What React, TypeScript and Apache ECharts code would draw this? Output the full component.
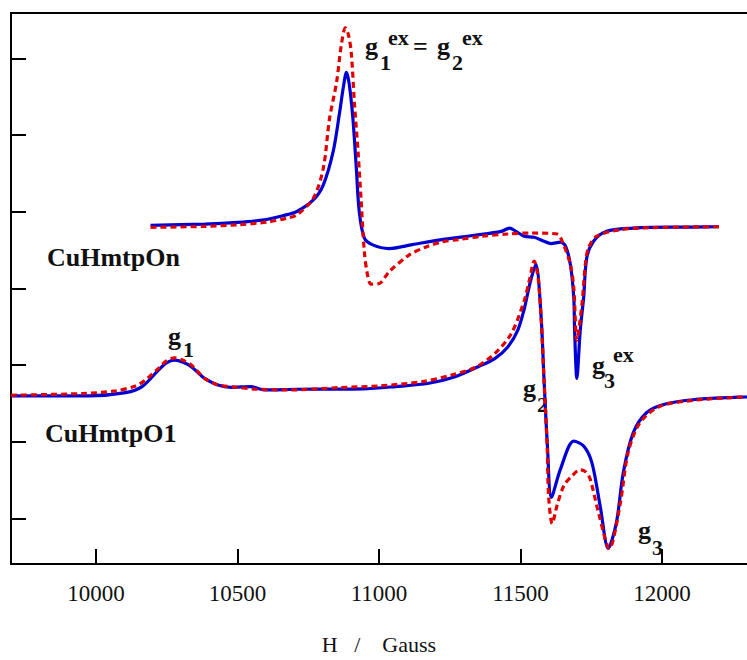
import React, { useEffect, useRef } from "react";
import * as echarts from "echarts";

// Field axis ticks (Gauss)
const xTicks = [10000, 10500, 11000, 11500, 12000];
const yTicks = [0, 1, 2, 3, 4, 5, 6];

// CuHmtpOn - experimental (blue solid)
const onExpH = [10193, 10384, 10500, 10594, 10664, 10710, 10768, 10803, 10838, 10860, 10874, 10885, 10895, 10908, 10920, 10930, 10948, 10978, 11035, 11118, 11222, 11339, 11432, 11461, 11484, 11513, 11548, 11583, 11607, 11641, 11659, 11676, 11688, 11691, 11699, 11711, 11723, 11734, 11758, 11804, 11898, 11967, 12107, 12201];
const onExpI = [3.824, 3.841, 3.863, 3.896, 3.953, 4.005, 4.155, 4.349, 4.785, 5.276, 5.625, 5.819, 5.664, 5.211, 4.565, 4.009, 3.66, 3.569, 3.521, 3.573, 3.638, 3.695, 3.746, 3.789, 3.746, 3.682, 3.669, 3.617, 3.586, 3.604, 3.552, 3.314, 2.884, 2.457, 1.827, 2.457, 2.884, 3.401, 3.617, 3.746, 3.789, 3.798, 3.802, 3.806];

// CuHmtpOn - simulation (red dotted)
const onSimH = [10193, 10384, 10500, 10605, 10675, 10710, 10768, 10803, 10825, 10850, 10867, 10881, 10892, 10902, 10913, 10926, 10937, 10948, 10958, 10972, 11001, 11036, 11106, 11164, 11222, 11280, 11362, 11455, 11537, 11630, 11647, 11676, 11688, 11699, 11717, 11729, 11740, 11769, 11851, 11967, 12201];
const onSimI = [3.798, 3.811, 3.832, 3.867, 3.918, 3.961, 4.177, 4.565, 5.211, 5.69, 6.181, 6.401, 6.311, 6.078, 5.431, 4.785, 4.138, 3.492, 3.207, 3.056, 3.065, 3.22, 3.436, 3.539, 3.608, 3.638, 3.682, 3.711, 3.724, 3.711, 3.617, 3.314, 3.013, 2.324, 2.797, 3.314, 3.53, 3.682, 3.767, 3.795, 3.806];

// CuHmtpO1 - experimental (blue solid)
const o1ExpH = [9700, 9977, 10105, 10163, 10221, 10249, 10279, 10308, 10337, 10384, 10431, 10477, 10547, 10594, 10710, 10943, 11059, 11176, 11269, 11350, 11409, 11455, 11490, 11513, 11534, 11554, 11572, 11583, 11595, 11609, 11641, 11688, 11723, 11752, 11781, 11810, 11839, 11863, 11898, 11944, 12002, 12107, 12271, 12300];
const o1ExpI = [1.6, 1.6, 1.642, 1.72, 1.936, 2.03, 2.065, 2.037, 1.979, 1.827, 1.742, 1.711, 1.72, 1.677, 1.685, 1.69, 1.72, 1.763, 1.849, 1.979, 2.086, 2.237, 2.453, 2.732, 3.078, 3.314, 2.668, 1.807, 0.944, 0.275, 0.643, 1.009, 0.944, 0.728, 0.168, -0.392, -0.048, 0.599, 1.116, 1.375, 1.483, 1.548, 1.582, 1.584];

// CuHmtpO1 - simulation (red dotted)
const o1SimH = [9700, 9953, 10070, 10140, 10175, 10221, 10249, 10279, 10308, 10337, 10384, 10431, 10500, 10570, 10687, 10861, 11001, 11153, 11257, 11339, 11409, 11467, 11513, 11531, 11548, 11562, 11572, 11583, 11594, 11599, 11612, 11629, 11653, 11682, 11711, 11730, 11746, 11775, 11814, 11851, 11880, 11921, 11991, 12107, 12271, 12300];
const o1SimI = [1.607, 1.629, 1.664, 1.729, 1.807, 1.957, 2.056, 2.095, 2.063, 2.001, 1.827, 1.742, 1.711, 1.685, 1.677, 1.707, 1.729, 1.785, 1.871, 1.969, 2.151, 2.409, 2.841, 3.104, 3.358, 3.142, 2.668, 1.807, 0.944, 0.297, -0.069, 0.168, 0.427, 0.556, 0.634, 0.608, 0.513, 0.081, -0.392, 0.168, 0.857, 1.245, 1.461, 1.539, 1.582, 1.584];

const zip = (h: number[], v: number[]) => h.map((x, i) => [x, v[i]]);

const BLUE = "#0000d4";
const RED = "#e00000";
const SERIF = "Liberation Serif";

function txt(text: string, x: number, y: number, size: number) {
  return {
    type: "text",
    x,
    y,
    silent: true,
    style: {
      text,
      fill: "#111",
      fontFamily: SERIF,
      fontSize: size,
      fontWeight: "bold",
      textAlign: "left",
      align: "left",
      textVerticalAlign: "middle",
      verticalAlign: "middle",
    },
  };
}

export default function App() {
  const ref = useRef<HTMLDivElement>(null);
  useEffect(() => {
    if (!ref.current) return;
    const chart = echarts.init(ref.current, undefined, { renderer: "svg" });
    const lineBase = { type: "line", showSymbol: false, symbol: "none", smooth: 0.3, z: 2 } as any;
    chart.setOption({
      animation: false,
      backgroundColor: "#fff",
      grid: { left: 11, top: 13, right: -8.5, bottom: 91, containLabel: false },
      xAxis: [
        {
          type: "value",
          min: 9700,
          max: 12300,
          position: "bottom",
          name: "H   /    Gauss",
          nameLocation: "middle",
          nameGap: 69,
          nameTextStyle: { fontFamily: SERIF, fontSize: 22, color: "#111" },
          axisLine: { show: true, onZero: false, lineStyle: { color: "#000", width: 2 } },
          axisTick: { show: true, inside: true, length: 15, lineStyle: { color: "#000", width: 2 }, customValues: xTicks },
          axisLabel: { show: true, margin: 18, fontFamily: SERIF, fontSize: 23, color: "#111", customValues: xTicks, formatter: (v: number) => String(v) },
          splitLine: { show: false },
        },
        {
          type: "value",
          min: 9700,
          max: 12300,
          position: "top",
          axisLine: { show: true, onZero: false, lineStyle: { color: "#000", width: 2 } },
          axisTick: { show: false },
          axisLabel: { show: false },
          splitLine: { show: false },
        },
      ],
      yAxis: {
        type: "value",
        min: -0.595,
        max: 6.595,
        axisLine: { show: true, onZero: false, lineStyle: { color: "#000", width: 2 } },
        axisTick: { show: true, inside: true, length: 15, lineStyle: { color: "#000", width: 2 }, customValues: yTicks },
        axisLabel: { show: false },
        splitLine: { show: false },
      },
      series: [
        { ...lineBase, name: "CuHmtpOn exp", data: zip(onExpH, onExpI), lineStyle: { color: BLUE, width: 3.2 } },
        { ...lineBase, name: "CuHmtpO1 exp", data: zip(o1ExpH, o1ExpI), lineStyle: { color: BLUE, width: 3.2 } },
        { ...lineBase, name: "CuHmtpOn sim", z: 3, data: zip(onSimH, onSimI), lineStyle: { color: RED, width: 3.2, type: [6, 4] } },
        { ...lineBase, name: "CuHmtpO1 sim", z: 3, data: zip(o1SimH, o1SimI), lineStyle: { color: RED, width: 3.2, type: [6, 4] } },
      ],
      graphic: [
        txt("CuHmtpOn", 47, 257, 26),
        txt("CuHmtpO1", 45, 433, 26),
        // g1ex = g2ex
        txt("g", 365, 46, 26),
        txt("1", 380, 62, 22),
        txt("ex", 388, 37, 22),
        txt("=", 413, 46, 26),
        txt("g", 437, 46, 26),
        txt("2", 452, 62, 22),
        txt("ex", 462, 37, 22),
        // g1
        txt("g", 168, 336, 26),
        txt("1", 183, 349, 22),
        // g2
        txt("g", 523, 388, 26),
        txt("2", 537, 404, 22),
        // g3ex
        txt("g", 592, 365, 26),
        txt("3", 604, 380, 22),
        txt("ex", 613, 354, 22),
        // g3
        txt("g", 638, 530, 26),
        txt("3", 652, 547, 22),
      ],
    });
    return () => chart.dispose();
  }, []);
  return <div ref={ref} style={{ position: "absolute", left: 0, top: 0, width: 747, height: 660 }} />;
}
